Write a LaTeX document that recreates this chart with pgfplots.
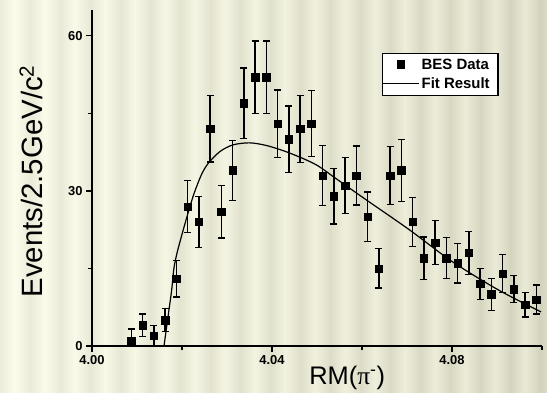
\documentclass[border=0pt]{standalone}
\usepackage{pgfplots}
\pgfplotsset{compat=1.18}
\usepackage{fontspec}
\setmainfont{Liberation Sans}
\newfontfamily\serifgreek{Liberation Serif}
\definecolor{bgLL}{RGB}{252,252,236}
\definecolor{bgLR}{RGB}{232,232,212}
\definecolor{bgDL}{RGB}{236,236,218}
\definecolor{bgDR}{RGB}{210,210,188}
\begin{document}
\begin{tikzpicture}
\path[use as bounding box] (-92bp,-47bp) rectangle (455bp,346bp);
\begin{scope}
\clip (-92bp,-47bp) rectangle (455bp,346bp);
\foreach \i in {0,...,18}{
  \pgfmathsetmacro\p{100*\i/18}
  \shade[left color=bgDR!\p!bgDL, right color=bgDR!\p!bgDL, middle color=bgLR!\p!bgLL]
    (\i*30bp-92bp,-47bp) rectangle ++(30bp,393bp);
}
\end{scope}
\begin{axis}[
  at={(0,0)}, anchor=south west,
  scale only axis, width=450bp, height=336bp,
  xmin=4.0, xmax=4.10, ymin=0, ymax=65,
  axis x line=bottom, axis y line=left,
  axis line style={line width=1.3bp, -},
  xtick={4.00,4.04,4.08}, minor xtick={4.02,4.06,4.10},
  xticklabels={4.00,4.04,4.08},
  ytick={0,30,60}, minor ytick={15,45},
  yticklabels={0,30,60},
  tick align=outside,
  major tick length=6bp, minor tick length=4bp,
  every tick/.style={black, line width=1.3bp},
  tick label style={font=\bfseries\fontsize{13}{15}\selectfont},
  xlabel={RM({\serifgreek π}\textsuperscript{-})},
  xlabel style={at={(axis description cs:0.567,-0.116)}, anchor=base, font=\fontsize{25.5}{28}\selectfont},
  ylabel={Events/2.5GeV/c\textsuperscript{2}},
  ylabel style={at={(axis description cs:-0.109,0.49)}, anchor=base, font=\fontsize{29.5}{32}\selectfont},
  legend style={at={(axis description cs:0.644,0.873)}, anchor=north west, draw=black, line width=1.3bp, fill=white, inner xsep=0pt, inner ysep=3.5bp, font=\bfseries\fontsize{15}{17}\selectfont, row sep=3bp},
  legend cell align=left,
  clip=false,
]
\addplot[only marks, mark=square*, mark size=3.7bp, black,
  legend image code/.code={\draw[mark repeat=2,mark phase=2,only marks,mark=square*,mark size=3.7bp,black] plot coordinates {(0bp,0bp) (18bp,0bp) (36bp,0bp)};},
  error bars/.cd, y dir=both, y explicit,
  error bar style={line width=1.3bp, black},
  error mark options={rotate=90, mark size=3.5bp, line width=1.3bp, black}]
coordinates {
(4.00875,1) += (0,2.3) -= (0,1)
(4.01125,4) += (0,2.2) -= (0,2.2)
(4.01375,2) += (0,2) -= (0,2)
(4.01625,5) += (0,2.2) -= (0,2.2)
(4.01875,13) += (0,3.5) -= (0,3.5)
(4.02125,27) += (0,5) -= (0,5)
(4.02375,24) += (0,4.9) -= (0,4.9)
(4.02625,42) += (0,6.4) -= (0,6.4)
(4.02875,26) += (0,5.1) -= (0,5.1)
(4.03125,34) += (0,5.8) -= (0,5.8)
(4.03375,47) += (0,6.8) -= (0,6.8)
(4.03625,52) += (0,7) -= (0,7)
(4.03875,52) += (0,7) -= (0,7)
(4.04125,43) += (0,6.5) -= (0,6.5)
(4.04375,40) += (0,6.4) -= (0,6.4)
(4.04625,42) += (0,6.5) -= (0,6.5)
(4.04875,43) += (0,6.4) -= (0,6.4)
(4.05125,33) += (0,5.8) -= (0,5.8)
(4.05375,29) += (0,5.4) -= (0,5.4)
(4.05625,31) += (0,5.4) -= (0,5.4)
(4.05875,33) += (0,5.7) -= (0,5.7)
(4.06125,25) += (0,4.8) -= (0,4.8)
(4.06375,15) += (0,3.8) -= (0,3.8)
(4.06625,33) += (0,5.6) -= (0,5.6)
(4.06875,34) += (0,6) -= (0,6)
(4.07125,24) += (0,4.7) -= (0,4.7)
(4.07375,17) += (0,4.1) -= (0,4.1)
(4.07625,20) += (0,4.3) -= (0,4.3)
(4.07875,17) += (0,4) -= (0,4)
(4.08125,16) += (0,3.8) -= (0,3.8)
(4.08375,18) += (0,4.2) -= (0,4.2)
(4.08625,12) += (0,3) -= (0,3)
(4.08875,10) += (0,3.1) -= (0,3.1)
(4.09125,14) += (0,3.7) -= (0,3.7)
(4.09375,11) += (0,2.6) -= (0,2.6)
(4.09625,8) += (0,2.4) -= (0,2.4)
(4.09875,9) += (0,2.8) -= (0,2.8)
};
\addlegendentry{BES Data\rule{7bp}{0pt}}
\addplot[black, line width=1.2bp, smooth, no marks,
  legend image code/.code={\draw[black, line width=1.2bp] plot coordinates {(0bp,0bp) (36bp,0bp)};}]
coordinates {
(4.0160,0) (4.0169,5.7) (4.0177,10.8) (4.0182,15.0) (4.0189,18.0) (4.0200,21.6)
(4.0212,25.3) (4.0226,29.3) (4.0243,33.1) (4.0258,35.3) (4.0284,37.6) (4.0313,38.9)
(4.0350,39.3) (4.0387,38.8) (4.0431,37.6) (4.0476,36.0) (4.0505,34.7) (4.0542,32.4)
(4.0609,28.3) (4.0705,22.5) (4.0801,16.3) (4.0904,10.8) (4.0998,6.6)
};
\addlegendentry{Fit Result}
\end{axis}
\end{tikzpicture}
\end{document}
